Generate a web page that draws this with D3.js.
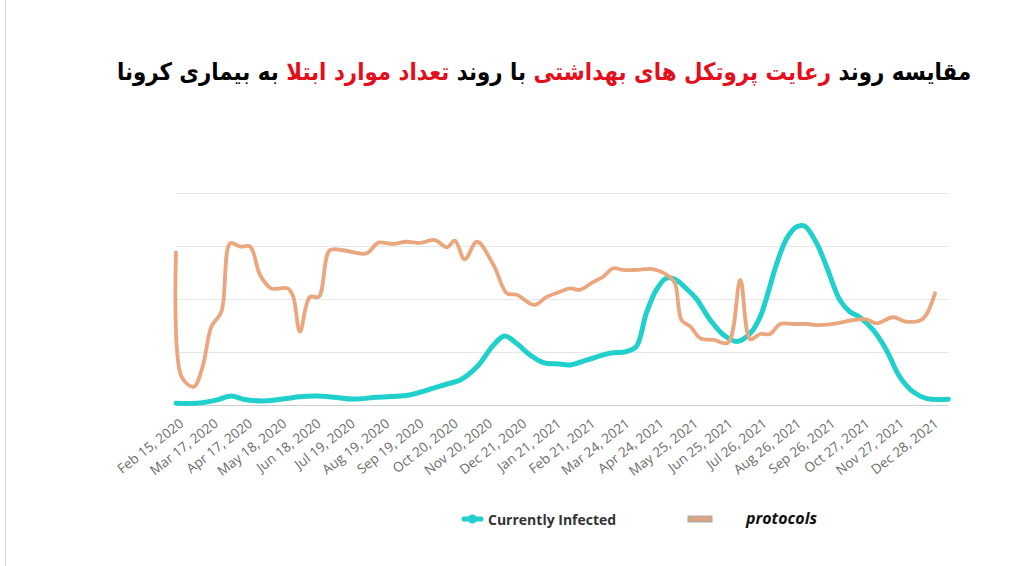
<!DOCTYPE html>
<html>
<head>
<meta charset="utf-8">
<script src="https://cdn.jsdelivr.net/npm/d3@7/dist/d3.min.js"></script>
<style>
  body { margin: 0; background: #fff; }
  #wrap { position: relative; width: 1022px; height: 566px; overflow: hidden; }
  #title {
    position: absolute; left: 544px; top: 58px; transform: translateX(-50%) scaleX(0.89);
    font-family: "DejaVu Sans", sans-serif; font-weight: bold; font-size: 24px;
    color: #000; direction: rtl; white-space: nowrap;
  }
  #title .red { color: #e3101c; }
  svg { position: absolute; left: 0; top: 0; }
</style>
</head>
<body>
<div id="wrap">
  <div id="chart"></div>
  <div id="title">مقایسه روند <span class="red">رعایت پروتکل های بهداشتی</span> با روند <span class="red">تعداد موارد ابتلا</span> به بیماری کرونا</div>
</div>
<script>
// tick labels, one every 31 days from the first
var tickLabels = ["Feb 15, 2020","Mar 17, 2020","Apr 17, 2020","May 18, 2020","Jun 18, 2020",
  "Jul 19, 2020","Aug 19, 2020","Sep 19, 2020","Oct 20, 2020","Nov 20, 2020","Dec 21, 2020",
  "Jan 21, 2021","Feb 21, 2021","Mar 24, 2021","Apr 24, 2021","May 25, 2021","Jun 25, 2021",
  "Jul 26, 2021","Aug 26, 2021","Sep 26, 2021","Oct 27, 2021","Nov 27, 2021","Dec 28, 2021"];

// days since Feb 15, 2020 and relative level (0-100)
var protoDays = [0,5,16,24,32,41,49,58,67,76,86,101,106,112,121,129,139,151,172,183,196,208,221,234,
  245,252,261,272,287,299,308,324,335,347,356,365,377,386,395,404,416,431,446,451,457,465,474,486,
  499,510,519,528,537,546,558,570,582,597,609,624,633,648,660,673,678,686];
var protoVals = [72,13.4,8.6,18,37,44,76.3,74.7,74.7,61.3,55,55,51,34.6,51,51,73,73,71.5,76.6,76,77,
  76.5,77.8,74.4,77.5,68.7,77,66,52.7,52,47.2,51,53.4,55,54.3,58,60.5,64.5,63.7,63.7,64.1,60.5,57.4,
  40,37,31.4,30.7,29.4,59,31,33.5,33.5,38.2,38.2,38.2,37.7,38.5,39.8,40.4,38.5,41.4,39.3,40,42.5,52.7];

var infDays = [0,22,37,50,61,79,100,112,127,145,160,181,211,227,245,257,272,287,297,308,320,332,347,
  356,371,392,407,416,425,434,443,451,461,470,483,495,507,519,528,534,543,552,561,568,579,588,600,
  609,618,630,642,654,666,678,698];
var infVals = [0.8,1,2.4,4.2,2.7,1.9,3.1,3.9,4.2,3.5,2.8,3.6,4.7,7,9.9,11.8,18,28.3,32.5,29,23.6,20,
  19.3,18.9,21.2,24.4,25.2,27.5,43.2,54.2,59.8,59.3,55,50.3,40,33,29.9,33.8,41.7,51,66.8,78.6,84.1,
  84.4,76.3,65.2,49.5,44,41.4,35.4,26,13.4,6.3,3.1,2.7];

var gridVals = [0, 25, 50, 75, 100];

var parse = d3.timeParse("%b %d, %Y");
var start = parse(tickLabels[0]);
var tickDates = tickLabels.map(parse);

var svg = d3.select("#chart").append("svg")
  .attr("width", 1022).attr("height", 566);

svg.append("line").attr("x1", 5.5).attr("x2", 5.5).attr("y1", 0).attr("y2", 566)
  .attr("stroke", "#d8d8d8").attr("stroke-width", 1);

var x = d3.scaleTime()
  .domain([start, tickDates[tickDates.length - 1]])
  .range([176, 930.6]);
var y = d3.scaleLinear().domain([0, 100]).range([405, 193]);

svg.append("g").selectAll("line").data(gridVals).enter().append("line")
  .attr("x1", 176).attr("x2", 948)
  .attr("y1", function(d) { return y(d) + 0.5; })
  .attr("y2", function(d) { return y(d) + 0.5; })
  .attr("stroke", function(d) { return d == 0 ? "#cfcfcf" : "#e6e6e6"; })
  .attr("stroke-width", 1);

var xAxis = svg.append("g")
  .attr("transform", "translate(0,405)")
  .call(d3.axisBottom(x).tickValues(tickDates).tickSize(0).tickFormat(d3.timeFormat("%b %d, %Y")));
xAxis.select(".domain").remove();
xAxis.selectAll("text")
  .text(function(d, i) { return tickLabels[i]; })
  .attr("font-family", "'Open Sans', sans-serif")
  .attr("font-size", 13.5)
  .attr("fill", "#6b6b6b")
  .attr("text-anchor", "end")
  .attr("x", -6).attr("y", 21).attr("dy", 0)
  .attr("transform", "rotate(-38)");

function toRows(days, vals) {
  return days.map(function(d, i) { return { date: d3.timeDay.offset(start, d), v: vals[i] }; });
}

var line = d3.line()
  .x(function(d) { return x(d.date); })
  .y(function(d) { return y(d.v); })
  .curve(d3.curveCatmullRom.alpha(0.5));

svg.append("path")
  .datum(toRows(infDays, infVals))
  .attr("d", line)
  .attr("fill", "none")
  .attr("stroke", "#1fd0cc")
  .attr("stroke-width", 5)
  .attr("stroke-linejoin", "round")
  .attr("stroke-linecap", "round");

svg.append("path")
  .datum(toRows(protoDays, protoVals))
  .attr("d", line)
  .attr("fill", "none")
  .attr("stroke", "#eaa67c")
  .attr("stroke-width", 3.8)
  .attr("stroke-linejoin", "round")
  .attr("stroke-linecap", "round");

// legend
var lg = svg.append("g");
lg.append("line").attr("x1", 464).attr("x2", 481).attr("y1", 519).attr("y2", 519)
  .attr("stroke", "#1fd0cc").attr("stroke-width", 5).attr("stroke-linecap", "round");
lg.append("circle").attr("cx", 472.5).attr("cy", 519).attr("r", 4.5).attr("fill", "#1fd0cc");
lg.append("text").attr("x", 488).attr("y", 524.5)
  .attr("font-family", "'Open Sans', sans-serif").attr("font-weight", "bold")
  .attr("font-size", 14).attr("fill", "#333").text("Currently Infected");
lg.append("rect").attr("x", 688).attr("y", 516).attr("width", 24).attr("height", 6)
  .attr("fill", "#d9a583").attr("stroke", "#a8a8a8").attr("stroke-width", 1);
lg.append("text").attr("x", 746).attr("y", 523.5)
  .attr("font-family", "'Open Sans', sans-serif").attr("font-weight", "bold").attr("font-style", "italic")
  .attr("font-size", 16).attr("fill", "#111").text("protocols");
</script>
</body>
</html>
